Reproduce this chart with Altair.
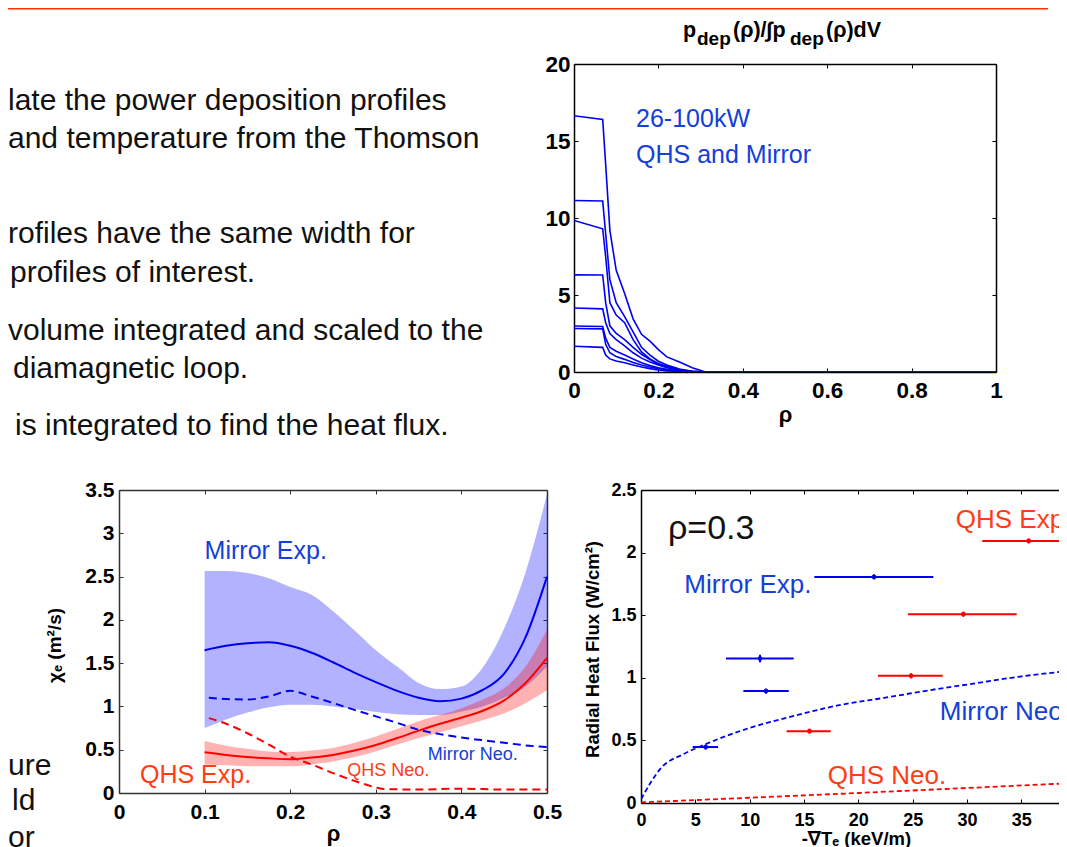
import altair as alt
import pandas as pd

FONT = "Liberation Sans"
LINE_BLUE = "#0000F0"
LINE_RED = "#FF0000"
TXT_BLUE = "#1240D8"
TXT_RED = "#FF3C14"
TXT_BLACK = "#111111"

# ---------------- slide text ----------------
slide_lines = [
    "late the power deposition profiles",
    "and temperature from the Thomson",
    "rofiles have the same width for",
    "profiles of interest.",
    "volume integrated and scaled to the",
    "diamagnetic loop.",
    "is integrated to find the heat flux.",
]
slide_fragments = ["ure", "ld", "or"]

# ---------------- power deposition profiles ----------------
dep_rho = [0, 0.068, 0.075, 0.085, 0.10, 0.12, 0.14, 0.16, 0.18, 0.20, 0.22, 0.25, 0.28, 0.31, 1.0]
dep_p1 = [16.64, 16.40, 13.5, 9.2, 6.6, 5.1, 3.45, 2.45, 2.0, 1.45, 0.98, 0.65, 0.28, 0.02, 0.0]
dep_p2 = [11.14, 11.10, 9.0, 6.0, 4.5, 3.6, 2.6, 1.6, 1.1, 0.7, 0.45, 0.2, 0.05, 0.0, 0.0]
dep_p3 = [9.84, 9.30, 7.5, 4.5, 3.7, 3.2, 2.1, 1.3, 0.85, 0.55, 0.35, 0.15, 0.04, 0.0, 0.0]
dep_p4 = [6.31, 6.30, 4.5, 3.0, 2.5, 2.1, 1.6, 1.15, 0.8, 0.5, 0.35, 0.15, 0.04, 0.0, 0.0]
dep_p5 = [4.16, 4.10, 3.2, 2.5, 2.1, 1.7, 1.25, 0.9, 0.65, 0.45, 0.28, 0.12, 0.03, 0.0, 0.0]
dep_p6 = [2.99, 2.95, 2.2, 1.6, 1.35, 1.1, 0.85, 0.6, 0.42, 0.28, 0.17, 0.07, 0.01, 0.0, 0.0]
dep_p7 = [2.82, 2.80, 1.8, 1.25, 1.0, 0.82, 0.62, 0.45, 0.32, 0.22, 0.13, 0.05, 0.01, 0.0, 0.0]
dep_p8 = [1.67, 1.60, 1.1, 0.85, 0.72, 0.6, 0.46, 0.32, 0.22, 0.13, 0.07, 0.03, 0.0, 0.0, 0.0]
dep_ticks_x = [0, 0.2, 0.4, 0.6, 0.8, 1]
dep_ticks_y = [0, 5, 10, 15, 20]

# ---------------- chi_e profiles ----------------
chi_rho = [0.1, 0.125, 0.15, 0.175, 0.2, 0.225, 0.25, 0.275, 0.3, 0.325, 0.35, 0.375, 0.4, 0.425, 0.45, 0.475, 0.5]
mirror_exp = [1.65, 1.70, 1.73, 1.74, 1.70, 1.62, 1.51, 1.39, 1.28, 1.18, 1.10, 1.06, 1.09, 1.19, 1.38, 1.80, 2.50]
mirror_hi = [2.565, 2.565, 2.54, 2.48, 2.38, 2.29, 2.10, 1.88, 1.65, 1.46, 1.27, 1.20, 1.23, 1.45, 1.90, 2.55, 3.45]
mirror_lo = [0.75, 0.85, 0.93, 0.99, 1.02, 1.02, 1.00, 0.97, 0.935, 0.91, 0.90, 0.90, 0.94, 1.00, 1.10, 1.23, 1.46]
qhs_exp = [0.47, 0.44, 0.415, 0.40, 0.39, 0.41, 0.44, 0.49, 0.555, 0.635, 0.72, 0.80, 0.87, 0.95, 1.07, 1.27, 1.56]
qhs_hi = [0.60, 0.546, 0.51, 0.48, 0.473, 0.49, 0.52, 0.58, 0.654, 0.74, 0.83, 0.90, 0.98, 1.08, 1.21, 1.46, 1.885]
qhs_lo = [0.33, 0.32, 0.31, 0.308, 0.308, 0.33, 0.365, 0.415, 0.48, 0.56, 0.635, 0.70, 0.77, 0.84, 0.92, 1.04, 1.19]
mirror_neo_rho = [0.105, 0.125, 0.15, 0.175, 0.2, 0.225, 0.25, 0.275, 0.3, 0.325, 0.35, 0.375, 0.4, 0.425, 0.45, 0.475, 0.5]
mirror_neo = [1.10, 1.085, 1.08, 1.115, 1.18, 1.115, 1.04, 0.96, 0.885, 0.81, 0.73, 0.68, 0.64, 0.61, 0.58, 0.55, 0.53]
qhs_neo_rho = [0.105, 0.125, 0.15, 0.175, 0.2, 0.225, 0.25, 0.275, 0.3, 0.31, 0.35, 0.4, 0.45, 0.5]
qhs_neo = [0.865, 0.80, 0.69, 0.56, 0.42, 0.33, 0.23, 0.14, 0.065, 0.045, 0.04, 0.05, 0.04, 0.04]
chi_ticks_x = [0, 0.1, 0.2, 0.3, 0.4, 0.5]
chi_ticks_y = [0, 0.5, 1, 1.5, 2, 2.5, 3, 3.5]

# ---------------- radial heat flux at rho = 0.3 ----------------
mirror_grad = [5.95, 11.5, 10.95, 21.44]
mirror_grad_lo = [4.75, 9.42, 7.82, 15.95]
mirror_grad_hi = [7.1, 13.6, 14.05, 26.9]
mirror_flux = [0.447, 0.894, 1.154, 1.806]
mirror_flux_err = [0.02, 0.02, 0.03, 0.02]
qhs_grad = [15.5, 24.85, 29.66, 35.67]
qhs_grad_lo = [13.4, 21.8, 24.57, 31.4]
qhs_grad_hi = [17.45, 27.76, 34.57, 40.0]
qhs_flux = [0.574, 1.016, 1.508, 2.093]
qhs_flux_err = [0.02, 0.02, 0.02, 0.02]
neo_grad = [0, 1.9, 3.9, 5.95, 7.9, 10, 13.4, 18, 22.6, 27.2, 30.3, 34.9, 40]
mirror_neo_flux = [0.03, 0.285, 0.39, 0.47, 0.537, 0.60, 0.68, 0.777, 0.843, 0.91, 0.95, 1.01, 1.06]
qhs_neo_grad = [0, 10, 20, 30, 40]
qhs_neo_flux = [0.005, 0.042, 0.08, 0.12, 0.16]
flux_ticks_x = [0, 5, 10, 15, 20, 25, 30, 35]
flux_ticks_y = [0, 0.5, 1, 1.5, 2, 2.5]

# ---------------- helpers ----------------
one = pd.DataFrame({"k": [0]})
TICK_IN = {"expr": "-4"}


def sc(dom):
    return alt.Scale(domain=dom, nice=False, zero=False)


def ptext(txt, x, y, size, color=TXT_BLACK, weight="normal"):
    return alt.Chart(one).mark_text(
        text=txt, font=FONT, fontSize=size, color=color, fontWeight=weight,
        align="left", baseline="alphabetic"
    ).encode(x=alt.value(x), y=alt.value(y))


def dtext(txt, x, y, xdom, ydom, size, color):
    return alt.Chart(one).mark_text(
        text=txt, font=FONT, fontSize=size, color=color,
        align="left", baseline="alphabetic"
    ).encode(x=alt.XDatum(x, scale=sc(xdom), axis=None),
             y=alt.YDatum(y, scale=sc(ydom), axis=None))


def title_kw(t, kw):
    if t is None:
        return {"title": None}
    d = {"title": t, "titleFont": FONT, "titleFontWeight": "bold", "titleColor": "black",
         "titleBaseline": "alphabetic", "titleAlign": "center"}
    d.update(kw)
    return d


def frame(xdom, ydom, xvals, yvals, lab_size, xpad, ypad, color,
          xtitle=None, xt=None, ytitle=None, yt=None, right=True):
    common = dict(labelFont=FONT, labelFontSize=lab_size, labelFontWeight="bold",
                  labelColor="black", labelFlush=False, labelOverlap=False,
                  tickSize=TICK_IN, tickColor=color, tickWidth=1,
                  domainColor=color, domainWidth=1.5, grid=False, format="~g")
    xa = alt.Axis(orient="bottom", values=xvals, labelPadding=xpad, **common, **title_kw(xtitle, xt))
    ya = alt.Axis(orient="left", values=yvals, labelPadding=ypad, **common, **title_kw(ytitle, yt))
    box = pd.DataFrame({"x": list(xdom), "y": list(ydom)})
    base = alt.Chart(box).mark_point(opacity=0, size=1)
    bl = base.encode(x=alt.X("x:Q", scale=sc(xdom), axis=xa),
                     y=alt.Y("y:Q", scale=sc(ydom), axis=ya))
    plain = dict(labels=False, title=None, tickSize=TICK_IN, tickColor=color, tickWidth=1,
                 domainColor=color, domainWidth=1.5, grid=False)
    xtop = alt.Axis(orient="top", values=xvals, **plain)
    if right:
        yright = alt.Y("y:Q", scale=sc(ydom), axis=alt.Axis(orient="right", values=yvals, **plain))
    else:
        yright = alt.Y("y:Q", scale=sc(ydom), axis=None)
    tr = base.encode(x=alt.X("x:Q", scale=sc(xdom), axis=xtop), y=yright)
    return bl, tr


# ---------------- text panel ----------------
TXT_W, TXT_H = 361, 309
slide_pos = [(-111, 46), (-111, 84), (-111, 179), (-109, 218), (-111, 276), (-106, 314), (-104, 371)]
# invisible anchor that fixes the top-left corner of the page layout
anchor = alt.Chart(one).mark_rect(opacity=0).encode(
    x=alt.value(-115), x2=alt.value(-114), y=alt.value(-62), y2=alt.value(-61))
top_rule = alt.Chart(one).mark_rule(color="#FF3300", strokeWidth=1.5).encode(
    x=alt.value(-111), x2=alt.value(929), y=alt.value(-55.25))
text_layers = [anchor, top_rule] + [ptext(t, x, y, 30) for t, (x, y) in zip(slide_lines, slide_pos)]
text_panel = alt.layer(*text_layers).properties(width=TXT_W, height=TXT_H)

# ---------------- power deposition panel ----------------
DEP_X, DEP_Y = [0, 1], [0, 20]
dep_rows = []
for name, vals in [("p1", dep_p1), ("p2", dep_p2), ("p3", dep_p3), ("p4", dep_p4),
                   ("p5", dep_p5), ("p6", dep_p6), ("p7", dep_p7), ("p8", dep_p8)]:
    for r, v in zip(dep_rho, vals):
        dep_rows.append({"rho": r, "p": v, "shot": name})
dep_df = pd.DataFrame(dep_rows)

dep_a, dep_b = frame(DEP_X, DEP_Y, dep_ticks_x, dep_ticks_y, 22.5, 11.5, 8, "#000000",
                     xtitle="ρ", xt={"titleFontSize": 22, "titleX": 211, "titleY": 49})
dep_lines = alt.Chart(dep_df).mark_line(color=LINE_BLUE, strokeWidth=1.6, clip=True).encode(
    x=alt.X("rho:Q", scale=sc(DEP_X), axis=None),
    y=alt.Y("p:Q", scale=sc(DEP_Y), axis=None),
    detail="shot:N")
dep_panel = alt.layer(
    dep_a, dep_lines, dep_b,
    dtext("26-100kW", 0.147, 15.9, DEP_X, DEP_Y, 25, TXT_BLUE),
    dtext("QHS and Mirror", 0.147, 13.57, DEP_X, DEP_Y, 25, TXT_BLUE),
    ptext("p", 109, -27, 21.5, "black", "bold"),
    ptext("dep", 123, -19, 19, "black", "bold"),
    ptext("(ρ)/∫p", 159, -27, 21.5, "black", "bold"),
    ptext("dep", 216, -19, 19, "black", "bold"),
    ptext("(ρ)dV", 252, -27, 21.5, "black", "bold"),
).resolve_axis(x="independent", y="independent").properties(width=422, height=308)

# ---------------- chi_e panel ----------------
CHI_X, CHI_Y = [0, 0.5], [0, 3.5]
chi_df = pd.DataFrame({"rho": chi_rho, "m": mirror_exp, "mh": mirror_hi, "ml": mirror_lo,
                       "q": qhs_exp, "qh": qhs_hi, "ql": qhs_lo})
mneo_df = pd.DataFrame({"rho": mirror_neo_rho, "v": mirror_neo})
qneo_df = pd.DataFrame({"rho": qhs_neo_rho, "v": qhs_neo})


def cx(f):
    return alt.X(f, scale=sc(CHI_X), axis=None)


def cy(f):
    return alt.Y(f, scale=sc(CHI_Y), axis=None)


chi_a, chi_b = frame(CHI_X, CHI_Y, chi_ticks_x, chi_ticks_y, 21, 12.5, 9, "#333333",
                     xtitle="ρ", xt={"titleFontSize": 22, "titleX": 214, "titleY": 47},
                     ytitle="χₑ (m²/s)", yt={"titleFontSize": 19, "titleX": -59, "titleY": 155})
chi_base = alt.Chart(chi_df)
chi_panel = alt.layer(
    chi_a,
    chi_base.mark_area(color="#0000FF", opacity=0.3, interpolate="monotone").encode(
        x=cx("rho:Q"), y=cy("ml:Q"), y2="mh:Q"),
    chi_base.mark_area(color="#FF0000", opacity=0.3, interpolate="monotone").encode(
        x=cx("rho:Q"), y=cy("ql:Q"), y2="qh:Q"),
    alt.Chart(mneo_df).mark_line(color=LINE_BLUE, strokeWidth=2, strokeDash=[8, 5], interpolate="monotone").encode(
        x=cx("rho:Q"), y=cy("v:Q")),
    alt.Chart(qneo_df).mark_line(color=LINE_RED, strokeWidth=2, strokeDash=[8, 5], interpolate="monotone").encode(
        x=cx("rho:Q"), y=cy("v:Q")),
    chi_base.mark_line(color=LINE_BLUE, strokeWidth=2, interpolate="monotone").encode(x=cx("rho:Q"), y=cy("m:Q")),
    chi_base.mark_line(color=LINE_RED, strokeWidth=2, interpolate="monotone").encode(x=cx("rho:Q"), y=cy("q:Q")),
    chi_b,
    dtext("Mirror Exp.", 0.1, 2.70, CHI_X, CHI_Y, 25, TXT_BLUE),
    dtext("QHS Exp.", 0.0245, 0.115, CHI_X, CHI_Y, 25, TXT_RED),
    dtext("Mirror Neo.", 0.3606, 0.381, CHI_X, CHI_Y, 18, TXT_BLUE),
    dtext("QHS Neo.", 0.2667, 0.196, CHI_X, CHI_Y, 18, TXT_RED),
    ptext(slide_fragments[0], -111, 285, 30),
    ptext(slide_fragments[1], -107, 320, 30),
    ptext(slide_fragments[2], -111, 357, 30),
).resolve_axis(x="independent", y="independent").properties(width=428, height=303)

# ---------------- heat flux panel ----------------
FLX_X, FLX_Y = [0, 39.2], [0, 2.5]


def fx(f):
    return alt.X(f, scale=sc(FLX_X), axis=None)


def fy(f):
    return alt.Y(f, scale=sc(FLX_Y), axis=None)


mir_df = pd.DataFrame({"g": mirror_grad, "lo": mirror_grad_lo, "hi": mirror_grad_hi,
                       "f": mirror_flux, "e": mirror_flux_err})
qhs_df = pd.DataFrame({"g": qhs_grad, "lo": qhs_grad_lo, "hi": qhs_grad_hi,
                       "f": qhs_flux, "e": qhs_flux_err})
for d in (mir_df, qhs_df):
    d["flo"] = d["f"] - d["e"]
    d["fhi"] = d["f"] + d["e"]
mneo_f = pd.DataFrame({"g": neo_grad, "v": mirror_neo_flux})
qneo_f = pd.DataFrame({"g": qhs_neo_grad, "v": qhs_neo_flux})

flx_a, flx_b = frame(FLX_X, FLX_Y, flux_ticks_x, flux_ticks_y, 18, 12, 9, "#000000",
                     xtitle="-∇Tₑ (keV/m)", xt={"titleFontSize": 18.5, "titleX": 215, "titleY": 41},
                     ytitle="Radial Heat Flux (W/cm²)", yt={"titleFontSize": 18.5, "titleX": -43, "titleY": 159},
                     right=False)


def err_layers(df, color):
    b = alt.Chart(df)
    return [
        b.mark_rule(color=color, strokeWidth=2, clip=True).encode(x=fx("lo:Q"), x2="hi:Q", y=fy("f:Q")),
        b.mark_rule(color=color, strokeWidth=2, clip=True).encode(x=fx("g:Q"), y=fy("flo:Q"), y2="fhi:Q"),
        b.mark_circle(color=color, size=22, opacity=1, clip=True).encode(x=fx("g:Q"), y=fy("f:Q")),
    ]


flx_panel = alt.layer(
    flx_a,
    alt.Chart(mneo_f).mark_line(color=LINE_BLUE, strokeWidth=1.8, strokeDash=[5, 3], clip=True,
                                interpolate="monotone").encode(x=fx("g:Q"), y=fy("v:Q")),
    alt.Chart(qneo_f).mark_line(color=LINE_RED, strokeWidth=1.8, strokeDash=[5, 3], clip=True).encode(
        x=fx("g:Q"), y=fy("v:Q")),
    *err_layers(mir_df, LINE_BLUE),
    *err_layers(qhs_df, LINE_RED),
    flx_b,
    dtext("ρ=0.3", 2.48, 2.11, FLX_X, FLX_Y, 34, TXT_BLACK),
    dtext("QHS Exp", 28.96, 2.194, FLX_X, FLX_Y, 26, TXT_RED),
    dtext("Mirror Exp.", 3.99, 1.68, FLX_X, FLX_Y, 26, TXT_BLUE),
    dtext("Mirror Neo", 27.5, 0.66, FLX_X, FLX_Y, 26, TXT_BLUE),
    dtext("QHS Neo.", 17.18, 0.149, FLX_X, FLX_Y, 26, TXT_RED),
).resolve_axis(x="independent", y="independent").properties(width=426, height=313)

row1 = alt.hconcat(text_panel, dep_panel, spacing=94, bounds="flush")
row2 = alt.hconcat(chi_panel, flx_panel, spacing=94, bounds="flush")

chart = alt.vconcat(row1, row2, spacing=426, bounds="flush").properties(
    padding={"left": -4, "top": -6, "right": -9, "bottom": 0},
    background="white",
).configure(font=FONT).configure_view(stroke="transparent", strokeWidth=0)

chart.save("out.html", embed_options={"renderer": "svg", "actions": False})
